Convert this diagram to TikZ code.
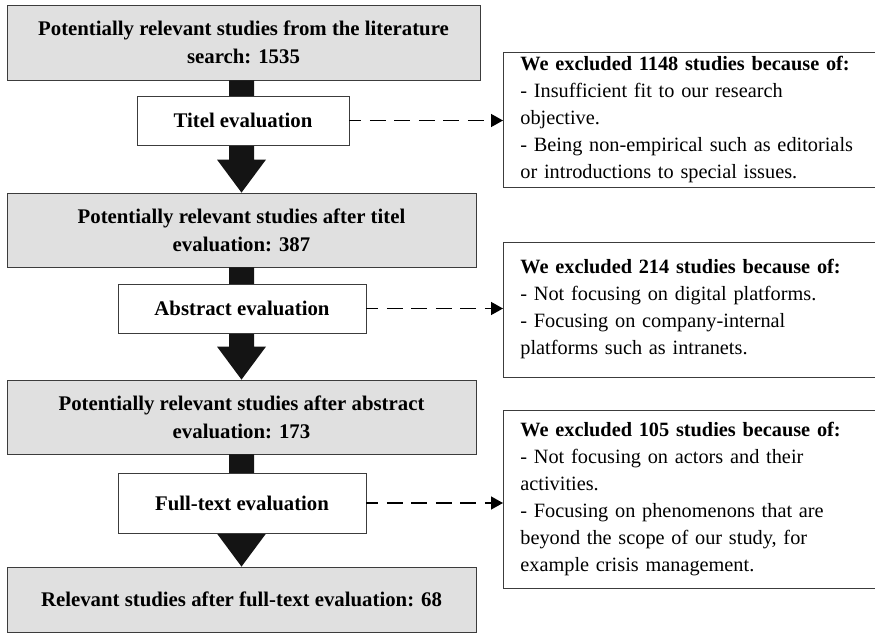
\documentclass[tikz,border=0pt]{standalone}
\usepackage{fontspec}
\setmainfont{Liberation Serif}
\usetikzlibrary{arrows.meta,calc}
\definecolor{boxgray}{RGB}{224,224,224}
\definecolor{edgec}{RGB}{60,60,60}
\definecolor{fatc}{RGB}{20,20,20}
\begin{document}
\begin{tikzpicture}[x=1pt,y=-1pt,
  graybox/.style={draw=edgec, line width=0.8pt, fill=boxgray, align=center, inner sep=0pt,
    font=\fontsize{20.8}{28}\selectfont\bfseries},
  whitebox/.style={draw=edgec, line width=0.8pt, fill=white, align=center, inner sep=0pt,
    font=\fontsize{20.8}{28}\selectfont\bfseries},
  notebox/.style={draw=edgec, line width=0.8pt, fill=white, align=left, text width=400pt,
    inner xsep=17pt, inner ysep=0pt, anchor=west, font=\fontsize{20.3}{27}\selectfont},
  fatarrow/.style={fill=fatc},
  exclude/.style={line width=1.4pt, dash pattern=on 16pt off 8.5pt, dash phase=4pt,
    -{Triangle[length=12pt,width=13pt]}}]
\useasboundingbox (0,0) rectangle (875,642);
\clip (0,0) rectangle (875,642);

% gray stage boxes
\node[graybox, minimum width=473pt, minimum height=75pt] (b1) at (243.5,42.5)
  {Potentially relevant studies from the literature\\search: 1535};
\node[graybox, minimum width=469pt, minimum height=74pt] (b2) at (241.5,230)
  {Potentially relevant studies after titel\\evaluation: 387};
\node[graybox, minimum width=469pt, minimum height=74pt] (b3) at (241.5,417)
  {Potentially relevant studies after abstract\\evaluation: 173};
\node[graybox, minimum width=469pt, minimum height=65pt] (b4) at (241.5,599.5)
  {Relevant studies after full-text evaluation: 68};

% fat arrows
\foreach \s/\t in {b1/b2,b2/b3,b3/b4}{
  \fill[fatarrow] ($(\s.south -| \t.north)+(-12.5,0)$) -- ($(\t.north)+(-12.5,-33)$)
    -- ($(\t.north)+(-24.5,-33)$) -- (\t.north) -- ($(\t.north)+(24.5,-33)$)
    -- ($(\t.north)+(12.5,-33)$) -- ($(\s.south -| \t.north)+(12.5,0)$) -- cycle;
}

% evaluation boxes
\node[whitebox, minimum width=212pt, minimum height=49pt] (t1) at (243,120.5) {Titel evaluation};
\node[whitebox, minimum width=248pt, minimum height=49pt] (t2) at (242,308.5) {Abstract evaluation};
\node[whitebox, minimum width=248pt, minimum height=60pt] (t3) at (242,503) {Full-text evaluation};

% exclusion boxes
\node[notebox, minimum height=135pt] (r1) at (503,119.5)
  {\textbf{We excluded 1148 studies because of:}\\
   - Insufficient fit to our research\\
   objective.\\
   - Being non-empirical such as editorials\\
   or introductions to special issues.};
\node[notebox, minimum height=135pt] (r2) at (503,309.5)
  {\textbf{We excluded 214 studies because of:}\\
   - Not focusing on digital platforms.\\
   - Focusing on company-internal\\
   platforms such as intranets.};
\node[notebox, minimum height=178pt] (r3) at (503,499)
  {\textbf{We excluded 105 studies because of:}\\
   - Not focusing on actors and their\\
   activities.\\
   - Focusing on phenomenons that are\\
   beyond the scope of our study, for\\
   example crisis management.};

% dashed exclusion arrows
\draw[exclude] (t1.east) -- (t1.east -| r1.west);
\draw[exclude] (t2.east) -- (t2.east -| r2.west);
\draw[exclude] (t3.east) -- (t3.east -| r3.west);
\end{tikzpicture}
\end{document}
